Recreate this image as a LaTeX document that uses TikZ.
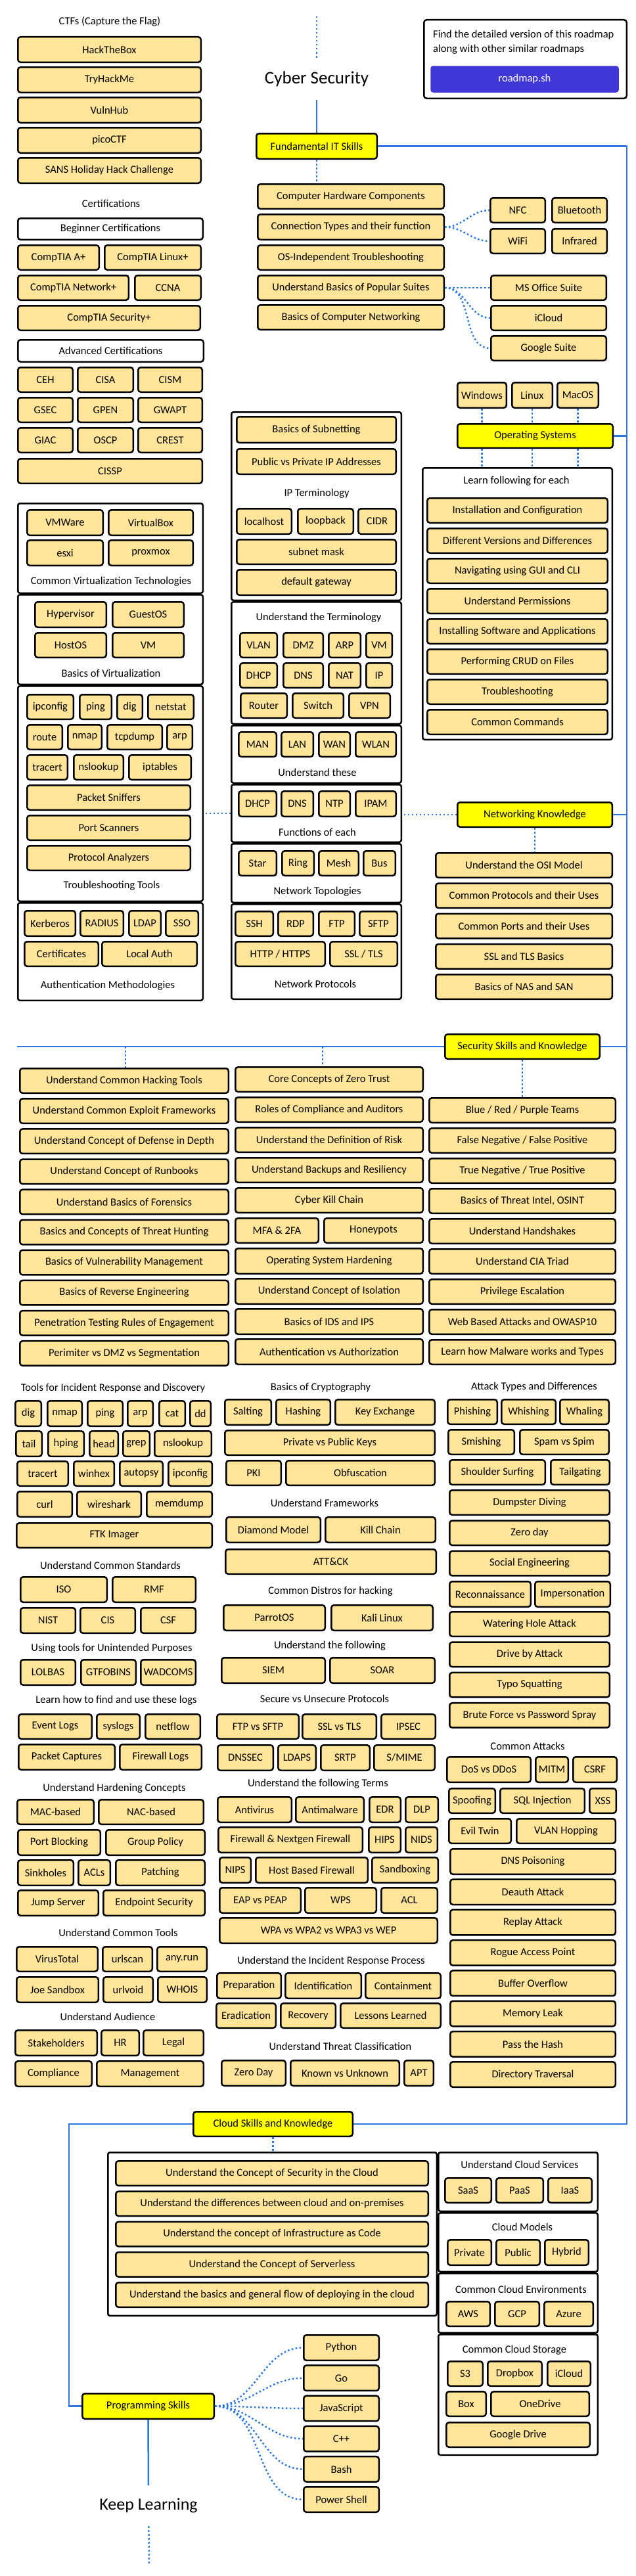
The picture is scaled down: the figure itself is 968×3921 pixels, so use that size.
\documentclass[tikz,border=0pt]{standalone}
\usepackage{fontspec}
\setmainfont{Carlito}
\usepackage{xcolor}
\usetikzlibrary{calc}
\usetikzlibrary{positioning}
\definecolor{topicfill}{HTML}{FFE599}
\definecolor{mainfill}{HTML}{FFFF00}
\definecolor{roadblue}{HTML}{2B78E4}
\definecolor{btnblue}{HTML}{4136D6}
\newcommand{\boxfont}{\fontsize{16.5}{19}\selectfont}
\newcommand{\bigfont}{\fontsize{27}{30}\selectfont}
\tikzset{
heavy/.style={line width=2.5pt},
topic/.style n args={4}{
	draw, heavy, rounded corners=4pt, fill=topicfill,
	inner sep=0pt, font=\boxfont,
	minimum width={#3-(#1)-2.5}, minimum height={#4-(#2)-2.5},
	at={({((#1)+(#3))/2},{((#2)+(#4))/2})}
},
main/.style n args={4}{topic={#1}{#2}{#3}{#4}, fill=mainfill},
plain/.style n args={4}{topic={#1}{#2}{#3}{#4}, fill=white},
panel/.style n args={4}{topic={#1}{#2}{#3}{#4}, fill=white, rounded corners=3pt},
button/.style n args={4}{topic={#1}{#2}{#3}{#4}, draw=none, fill=btnblue, text=white},
caption/.style={font=\boxfont, inner sep=0pt},
headline/.style={font=\bigfont, inner sep=0pt, minimum height=64},
spine/.style={draw=roadblue, heavy},
dotline/.style={draw=roadblue, heavy, dash pattern=on 2.5pt off 3.5pt},
}
\begin{document}
\begin{tikzpicture}[x=1pt, y=-1pt]
\useasboundingbox (0,0) rectangle (968,3921);

%Place the nodes
\coordinate (start) at (482,25);
\node[headline] (title) at (482,120) {Cyber Security};
\node[plain={644}{29}{955}{151}] (info) {};
\node[caption, align=left, anchor=west, font=\fontsize{16.5}{22}\selectfont] (infotext) at (659,64) {Find the detailed version of this roadmap\\along with other similar roadmaps};
\node[button={654}{99}{943}{142}] (site) {roadmap.sh};

% CTFs and certifications
\node[caption] (ctfT) at (167,33) {CTFs (Capture the Flag)};
\foreach \lbl [count=\i] in {HackTheBox, TryHackMe, VulnHub, picoCTF, SANS Holiday Hack Challenge} {
	\pgfmathsetmacro{\ya}{55+46*(\i-1)}
	\node[topic={26}{\ya}{307}{\ya+41}] (ctf\i) {\lbl};
}
\node[caption] (certT) at (169,310) {Certifications};
\node[plain={26}{331}{310}{366}] (begin) {Beginner Certifications};
\node[topic={26}{372}{152}{412}] (aplus) {CompTIA A+};
\node[topic={158}{372}{307}{412}] (linuxp) {CompTIA Linux+};
\node[topic={26}{418}{197}{458}] (netp) {CompTIA Network+};
\node[topic={204}{418}{307}{458}] (ccna) {CCNA};
\node[topic={26}{464}{306}{504}] (secp) {CompTIA Security+};
\node[plain={26}{516}{311}{552}] (adv) {Advanced Certifications};
\foreach \a/\b/\c [count=\i] in {CEH/CISA/CISM, GSEC/GPEN/GWAPT, GIAC/OSCP/CREST} {
	\pgfmathsetmacro{\ya}{558+46*(\i-1)}
	\node[topic={26}{\ya}{112}{\ya+40}] (adv\i1) {\a};
	\node[topic={117}{\ya}{204}{\ya+40}] (adv\i2) {\b};
	\node[topic={209}{\ya}{309}{\ya+40}] (adv\i3) {\c};
}
\node[topic={26}{697}{309}{737}] (cissp) {CISSP};

% virtualization and tools
\node[panel={26}{765}{310}{904}] (virt) {};
\node[topic={40}{775}{158}{816}] (vmware) {VMWare};
\node[topic={164}{775}{295}{816}] (vbox) {VirtualBox};
\node[topic={40}{821}{158}{862}] (esxi) {esxi};
\node[topic={164}{821}{295}{862}] (proxmox) {proxmox};
\node[caption] (virtT) at (169,885) {Common Virtualization Technologies};
\node[panel={26}{904}{310}{1043}] (bvirt) {};
\node[topic={52}{915}{163}{956}] (hyper) {Hypervisor};
\node[topic={170}{915}{281}{956}] (guest) {GuestOS};
\node[topic={52}{962}{163}{1002}] (hostos) {HostOS};
\node[topic={170}{962}{281}{1002}] (vm) {VM};
\node[caption] (bvirtT) at (169,1025) {Basics of Virtualization};
\node[panel={26}{1043}{310}{1373}] (tools) {};
\node[topic={40}{1056}{113}{1096}] (ipconfig) {ipconfig};
\node[topic={120}{1056}{171}{1096}] (ping) {ping};
\node[topic={177}{1056}{218}{1096}] (dig) {dig};
\node[topic={224}{1056}{296}{1096}] (netstat) {netstat};
\node[topic={40}{1102}{96}{1142}] (route) {route};
\node[topic={102}{1102}{156}{1142}] (nmap) {nmap};
\node[topic={162}{1102}{248}{1142}] (tcpdump) {tcpdump};
\node[topic={253}{1102}{294}{1142}] (arp) {arp};
\node[topic={40}{1148}{104}{1188}] (tracert) {tracert};
\node[topic={111}{1148}{189}{1188}] (nslookup) {nslookup};
\node[topic={195}{1148}{292}{1188}] (iptables) {iptables};
\node[topic={40}{1194}{291}{1234}] (sniff) {Packet Sniffers};
\node[topic={40}{1240}{291}{1280}] (scanners) {Port Scanners};
\node[topic={40}{1286}{291}{1326}] (analyzers) {Protocol Analyzers};
\node[caption] (toolsT) at (170,1348) {Troubleshooting Tools};
\node[panel={26}{1373}{310}{1524}] (auth) {};
\node[topic={36}{1385}{116}{1426}] (kerb) {Kerberos};
\node[topic={121}{1385}{189}{1426}] (radius) {RADIUS};
\node[topic={195}{1385}{246}{1426}] (ldap) {LDAP};
\node[topic={251}{1385}{303}{1426}] (sso) {SSO};
\node[topic={36}{1432}{151}{1472}] (certs) {Certificates};
\node[topic={154}{1432}{301}{1472}] (local) {Local Auth};
\node[caption] (authT) at (164,1500) {Authentication Methodologies};

% networking panels
\node[panel={351}{626}{612}{915}] (ng1) {};
\node[topic={359}{633}{604}{675}] (subnet) {Basics of Subnetting};
\node[topic={359}{682}{604}{723}] (pubpriv) {Public vs Private IP Addresses};
\node[caption] (ipT) at (482,751) {IP Terminology};
\node[topic={359}{773}{445}{814}] (localhost) {localhost};
\node[topic={452}{773}{539}{814}] (loopback) {loopback};
\node[topic={544}{773}{604}{814}] (cidr) {CIDR};
\node[topic={359}{820}{604}{860}] (mask) {subnet mask};
\node[topic={359}{866}{604}{907}] (gateway) {default gateway};
\node[panel={351}{915}{612}{1103}] (ng2) {};
\node[caption] (termT) at (485,940) {Understand the Terminology};
\node[topic={364}{962}{423}{1002}] (vlan) {VLAN};
\node[topic={430}{962}{493}{1002}] (dmz) {DMZ};
\node[topic={499}{962}{550}{1002}] (arpt) {ARP};
\node[topic={556}{962}{598}{1002}] (vmt) {VM};
\node[topic={364}{1008}{423}{1048}] (dhcpt) {DHCP};
\node[topic={430}{1008}{493}{1048}] (dnst) {DNS};
\node[topic={499}{1008}{550}{1048}] (nat) {NAT};
\node[topic={556}{1008}{598}{1048}] (ip) {IP};
\node[topic={365}{1054}{438}{1094}] (router) {Router};
\node[topic={444}{1054}{524}{1094}] (switch) {Switch};
\node[topic={530}{1054}{595}{1094}] (vpn) {VPN};
\node[panel={351}{1103}{612}{1193}] (ng3) {};
\foreach \lbl/\xa/\xb [count=\i] in {MAN/362/422, LAN/427/478, WAN/484/534, WLAN/540/604} {
	\node[topic={\xa}{1113}{\xb}{1153}] (area\i) {\lbl};
}
\node[caption] (theseT) at (483,1176) {Understand these};
\node[panel={351}{1193}{612}{1283}] (ng4) {};
\foreach \lbl/\xa/\xb [count=\i] in {DHCP/362/422, DNS/427/478, NTP/484/534, IPAM/540/604} {
	\node[topic={\xa}{1203}{\xb}{1244}] (func\i) {\lbl};
}
\node[caption] (funcT) at (483,1267) {Functions of each};
\node[panel={351}{1283}{612}{1375}] (ng5) {};
\foreach \lbl/\xa/\xb [count=\i] in {Star/362/422, Ring/428/479, Mesh/484/547, Bus/552/603} {
	\node[topic={\xa}{1294}{\xb}{1334}] (topo\i) {\lbl};
}
\node[caption] (topoT) at (483,1357) {Network Topologies};
\node[panel={351}{1375}{612}{1522}] (ng6) {};
\foreach \lbl/\xa/\xb [count=\i] in {SSH/357/417, RDP/422/478, FTP/484/541, SFTP/546/606} {
	\node[topic={\xa}{1386}{\xb}{1426}] (proto\i) {\lbl};
}
\node[topic={357}{1432}{496}{1472}] (http) {HTTP / HTTPS};
\node[topic={501}{1432}{606}{1472}] (ssltls) {SSL / TLS};
\node[caption] (protoT) at (480,1498) {Network Protocols};

% fundamental it skills
\node[main={389}{202}{575}{243}] (fit) {Fundamental IT Skills};
\node[topic={391}{279}{677}{319}] (hw) {Computer Hardware Components};
\node[topic={391}{325}{677}{366}] (conn) {Connection Types and their function};
\node[topic={391}{372}{677}{412}] (ostrouble) {OS-Independent Troubleshooting};
\node[topic={391}{418}{677}{458}] (suites) {Understand Basics of Popular Suites};
\node[topic={391}{463}{677}{503}] (netbasics) {Basics of Computer Networking};
\node[topic={745}{300}{831}{340}] (nfc) {NFC};
\node[topic={839}{300}{925}{340}] (bt) {Bluetooth};
\node[topic={745}{347}{831}{387}] (wifi) {WiFi};
\node[topic={839}{347}{925}{387}] (ir) {Infrared};
\node[topic={746}{418}{924}{458}] (office) {MS Office Suite};
\node[topic={746}{464}{924}{504}] (icloud) {iCloud};
\node[topic={746}{510}{924}{550}] (gsuite) {Google Suite};

% operating systems
\node[topic={695}{581}{772}{622}] (windows) {Windows};
\node[topic={778}{581}{842}{622}] (linux) {Linux};
\node[topic={847}{581}{912}{622}] (macos) {MacOS};
\node[main={695}{644}{934}{683}] (os) {Operating Systems};
\node[panel={642}{711}{933}{1127}] (osp) {};
\node[caption] (learnT) at (786,732) {Learn following for each};
\foreach \lbl [count=\i] in {Installation and Configuration, Different Versions and Differences, Navigating using GUI and CLI, Understand Permissions, Installing Software and Applications, Performing CRUD on Files, Troubleshooting, Common Commands} {
	\pgfmathsetmacro{\ya}{757+46*(\i-1)}
	\node[topic={649}{\ya}{926}{\ya+40}] (learn\i) {\lbl};
}

% networking knowledge
\node[main={695}{1220}{933}{1260}] (net) {Networking Knowledge};
\foreach \lbl [count=\i] in {Understand the OSI Model, Common Protocols and their Uses, Common Ports and their Uses, SSL and TLS Basics, Basics of NAS and SAN} {
	\pgfmathsetmacro{\ya}{1297+46.25*(\i-1)}
	\node[topic={662}{\ya}{933}{\ya+40}] (netk\i) {\lbl};
}

% security skills and knowledge
\coordinate (secL) at (26,1593);
\coordinate (drop1) at (191,1593);
\coordinate (drop2) at (491,1593);
\node[main={676}{1573}{914}{1613}] (sec) {Security Skills and Knowledge};
\foreach \lbl [count=\i] in {Understand Common Hacking Tools, Understand Common Exploit Frameworks, Understand Concept of Defense in Depth, Understand Concept of Runbooks, Understand Basics of Forensics, Basics and Concepts of Threat Hunting, Basics of Vulnerability Management, Basics of Reverse Engineering, Penetration Testing Rules of Engagement, Perimiter vs DMZ vs Segmentation} {
	\pgfmathsetmacro{\ya}{1625+46.1*(\i-1)}
	\node[topic={29}{\ya}{349}{\ya+40}] (sl\i) {\lbl};
}
\foreach \lbl [count=\i] in {Core Concepts of Zero Trust, Roles of Compliance and Auditors, Understand the Definition of Risk, Understand Backups and Resiliency, Cyber Kill Chain} {
	\pgfmathsetmacro{\ya}{1623+46*(\i-1)}
	\node[topic={357}{\ya}{645}{\ya+40}] (sm\i) {\lbl};
}
\node[topic={357}{1853}{486}{1893}] (mfa) {MFA \& 2FA};
\node[topic={492}{1853}{645}{1893}] (honey) {Honeypots};
\foreach \lbl [count=\i from 7] in {Operating System Hardening, Understand Concept of Isolation, Basics of IDS and IPS, Authentication vs Authorization} {
	\pgfmathsetmacro{\ya}{1623+46*(\i-1)}
	\node[topic={357}{\ya}{645}{\ya+41}] (sm\i) {\lbl};
}
\foreach \lbl [count=\i] in {Blue / Red / Purple Teams, False Negative / False Positive, True Negative / True Positive, {Basics of Threat Intel, OSINT}, Understand Handshakes, Understand CIA Triad, Privilege Escalation, Web Based Attacks and OWASP10, Learn how Malware works and Types} {
	\pgfmathsetmacro{\ya}{1670+46*(\i-1)}
	\node[topic={652}{\ya}{938}{\ya+40}] (sr\i) {\lbl};
}

% incident response tools
\node[caption] (irT) at (172,2113) {Tools for Incident Response and Discovery};
\foreach \lbl/\xa/\xb [count=\i] in {dig/22/64, nmap/71/126, ping/132/188, arp/193/234, cat/241/283, dd/288/322} {
	\node[topic={\xa}{2131}{\xb}{2172}] (ira\i) {\lbl};
}
\foreach \lbl/\xa/\xb [count=\i] in {tail/23/65, hping/72/129, head/135/181, grep/186/229, nslookup/234/323} {
	\node[topic={\xa}{2177}{\xb}{2218}] (irb\i) {\lbl};
}
\foreach \lbl/\xa/\xb [count=\i] in {tracert/25/105, winhex/111/175, autopsy/181/249, ipconfig/255/324} {
	\node[topic={\xa}{2223}{\xb}{2263}] (irc\i) {\lbl};
}
\foreach \lbl/\xa/\xb [count=\i] in {curl/25/111, wireshark/116/216, memdump/222/324} {
	\node[topic={\xa}{2269}{\xb}{2310}] (ird\i) {\lbl};
}
\node[topic={24}{2317}{324}{2357}] (ftk) {FTK Imager};
\node[caption] (stdT) at (168,2383) {Understand Common Standards};
\node[topic={30}{2399}{164}{2440}] (iso) {ISO};
\node[topic={170}{2399}{299}{2440}] (rmf) {RMF};
\node[topic={30}{2446}{116}{2487}] (nist) {NIST};
\node[topic={121}{2446}{207}{2487}] (cis) {CIS};
\node[topic={213}{2446}{299}{2487}] (csf) {CSF};
\node[caption] (unintT) at (170,2509) {Using tools for Unintended Purposes};
\node[topic={30}{2525}{116}{2566}] (lolbas) {LOLBAS};
\node[topic={122}{2525}{208}{2566}] (gtfo) {GTFOBINS};
\node[topic={213}{2525}{299}{2566}] (wadcoms) {WADCOMS};
\node[caption] (logsT) at (177,2588) {Learn how to find and use these logs};
\node[topic={27}{2608}{141}{2648}] (evlogs) {Event Logs};
\node[topic={146}{2608}{214}{2648}] (syslogs) {syslogs};
\node[topic={220}{2608}{306}{2648}] (netflow) {netflow};
\node[topic={27}{2654}{176}{2695}] (pcap) {Packet Captures};
\node[topic={181}{2654}{308}{2695}] (fwlogs) {Firewall Logs};
\node[caption] (hardT) at (174,2722) {Understand Hardening Concepts};
\node[topic={25}{2738}{144}{2778}] (mac) {MAC-based};
\node[topic={149}{2738}{311}{2778}] (nac) {NAC-based};
\node[topic={26}{2784}{154}{2825}] (portblock) {Port Blocking};
\node[topic={160}{2784}{313}{2825}] (gpo) {Group Policy};
\node[topic={26}{2830}{113}{2871}] (sinkholes) {Sinkholes};
\node[topic={118}{2830}{169}{2871}] (acls) {ACLs};
\node[topic={175}{2830}{313}{2871}] (patching) {Patching};
\node[topic={26}{2876}{151}{2917}] (jump) {Jump Server};
\node[topic={156}{2876}{313}{2917}] (endpoint) {Endpoint Security};
\node[caption] (ctoolsT) at (180,2942) {Understand Common Tools};
\node[topic={24}{2962}{150}{3002}] (vtotal) {VirusTotal};
\node[topic={155}{2962}{233}{3002}] (urlscan) {urlscan};
\node[topic={238}{2962}{316}{3002}] (anyrun) {any.run};
\node[topic={24}{3008}{151}{3049}] (joe) {Joe Sandbox};
\node[topic={156}{3008}{234}{3049}] (urlvoid) {urlvoid};
\node[topic={239}{3008}{316}{3049}] (whois) {WHOIS};
\node[caption] (audT) at (164,3070) {Understand Audience};
\node[topic={22}{3089}{149}{3130}] (stake) {Stakeholders};
\node[topic={153}{3089}{213}{3130}] (hr) {HR};
\node[topic={217}{3089}{311}{3130}] (legal) {Legal};
\node[topic={22}{3136}{141}{3177}] (compl) {Compliance};
\node[topic={146}{3136}{311}{3177}] (mgmt) {Management};

% cryptography and frameworks
\node[caption] (cryptoT) at (488,2112) {Basics of Cryptography};
\node[topic={341}{2129}{414}{2170}] (salting) {Salting};
\node[topic={419}{2129}{504}{2170}] (hashing) {Hashing};
\node[topic={509}{2129}{663}{2170}] (keyx) {Key Exchange};
\node[topic={341}{2176}{663}{2216}] (keys) {Private vs Public Keys};
\node[topic={343}{2222}{429}{2262}] (pki) {PKI};
\node[topic={434}{2222}{663}{2262}] (obf) {Obfuscation};
\node[caption] (fwT) at (494,2288) {Understand Frameworks};
\node[topic={343}{2308}{489}{2349}] (diamond) {Diamond Model};
\node[topic={494}{2308}{664}{2349}] (kill) {Kill Chain};
\node[topic={342}{2357}{665}{2397}] (attck) {ATT\&CK};
\node[caption] (distroT) at (503,2422) {Common Distros for hacking};
\node[topic={339}{2442}{496}{2483}] (parrot) {ParrotOS};
\node[topic={503}{2442}{660}{2483}] (kali) {Kali Linux};
\node[caption] (followT) at (502,2505) {Understand the following};
\node[topic={336}{2522}{496}{2563}] (siem) {SIEM};
\node[topic={501}{2522}{663}{2563}] (soar) {SOAR};
\node[caption] (sprotoT) at (494,2586) {Secure vs Unsecure Protocols};
\node[topic={329}{2608}{456}{2648}] (ftpsftp) {FTP vs SFTP};
\node[topic={459}{2608}{574}{2648}] (sslvstls) {SSL vs TLS};
\node[topic={579}{2608}{664}{2648}] (ipsec) {IPSEC};
\node[topic={330}{2655}{417}{2696}] (dnssec) {DNSSEC};
\node[topic={422}{2655}{482}{2696}] (ldaps) {LDAPS};
\node[topic={487}{2655}{564}{2696}] (srtp) {SRTP};
\node[topic={568}{2655}{663}{2696}] (smime) {S/MIME};
\node[caption] (termsT) at (484,2715) {Understand the following Terms};
\node[topic={330}{2734}{445}{2775}] (av) {Antivirus};
\node[topic={449}{2734}{555}{2775}] (am) {Antimalware};
\node[topic={561}{2734}{611}{2775}] (edr) {EDR};
\node[topic={616}{2734}{668}{2775}] (dlp) {DLP};
\node[topic={331}{2780}{553}{2821}] (ngfw) {Firewall \& Nextgen Firewall};
\node[topic={560}{2780}{611}{2821}] (hips) {HIPS};
\node[topic={616}{2780}{667}{2821}] (nids) {NIDS};
\node[topic={333}{2826}{383}{2867}] (nips) {NIPS};
\node[topic={388}{2826}{561}{2867}] (hbf) {Host Based Firewall};
\node[topic={565}{2826}{668}{2867}] (sandbox) {Sandboxing};
\node[topic={333}{2872}{459}{2913}] (eap) {EAP vs PEAP};
\node[topic={463}{2872}{574}{2913}] (wps) {WPS};
\node[topic={579}{2872}{667}{2913}] (acl) {ACL};
\node[topic={333}{2918}{667}{2959}] (wpa) {WPA vs WPA2 vs WPA3 vs WEP};
\node[caption] (irpT) at (504,2985) {Understand the Incident Response Process};
\node[topic={329}{3002}{429}{3043}] (prep) {Preparation};
\node[topic={433}{3002}{551}{3043}] (ident) {Identification};
\node[topic={555}{3002}{672}{3043}] (contain) {Containment};
\node[topic={328}{3048}{421}{3088}] (erad) {Eradication};
\node[topic={426}{3048}{512}{3088}] (recov) {Recovery};
\node[topic={517}{3048}{672}{3088}] (lessons) {Lessons Learned};
\node[caption] (threatT) at (518,3115) {Understand Threat Classification};
\node[topic={336}{3135}{436}{3176}] (zeroday) {Zero Day};
\node[topic={441}{3135}{609}{3176}] (known) {Known vs Unknown};
\node[topic={614}{3135}{661}{3176}] (apt) {APT};

% attack types
\node[caption] (atkT) at (813,2111) {Attack Types and Differences};
\node[topic={680}{2129}{758}{2169}] (phish) {Phishing};
\node[topic={762}{2129}{847}{2169}] (whish) {Whishing};
\node[topic={851}{2129}{928}{2169}] (whale) {Whaling};
\node[topic={681}{2175}{784}{2215}] (smish) {Smishing};
\node[topic={790}{2175}{928}{2215}] (spam) {Spam vs Spim};
\node[topic={683}{2221}{831}{2261}] (shoulder) {Shoulder Surfing};
\node[topic={837}{2221}{929}{2261}] (tailg) {Tailgating};
\foreach \lbl [count=\i] in {Dumpster Diving, Zero day, Social Engineering} {
	\pgfmathsetmacro{\ya}{2267+46.3*(\i-1)}
	\node[topic={683}{\ya}{929}{\ya+40}] (at\i) {\lbl};
}
\node[topic={683}{2406}{809}{2447}] (recon) {Reconnaissance};
\node[topic={813}{2406}{930}{2447}] (imper) {Impersonation};
\foreach \lbl [count=\i from 5] in {Watering Hole Attack, Drive by Attack, Typo Squatting, Brute Force vs Password Spray} {
	\pgfmathsetmacro{\ya}{2452+46.3*(\i-5)}
	\node[topic={683}{\ya}{929}{\ya+40}] (at\i) {\lbl};
}
\node[caption] (comT) at (803,2658) {Common Attacks};
\node[topic={679}{2673}{809}{2714}] (dos) {DoS vs DDoS};
\node[topic={814}{2673}{866}{2714}] (mitm) {MITM};
\node[topic={871}{2673}{940}{2714}] (csrf) {CSRF};
\node[topic={682}{2721}{755}{2761}] (spoof) {Spoofing};
\node[topic={760}{2721}{891}{2761}] (sqli) {SQL Injection};
\node[topic={896}{2721}{939}{2761}] (xss) {XSS};
\node[topic={682}{2767}{779}{2807}] (evil) {Evil Twin};
\node[topic={785}{2767}{938}{2807}] (vhop) {VLAN Hopping};
\foreach \lbl [count=\i] in {DNS Poisoning, Deauth Attack, Replay Attack, Rogue Access Point, Buffer Overflow, Memory Leak, Pass the Hash, Directory Traversal} {
	\pgfmathsetmacro{\ya}{2813+46.3*(\i-1)}
	\node[topic={684}{\ya}{938}{\ya+41}] (ca\i) {\lbl};
}

% cloud skills and knowledge
\coordinate (spine) at (954,3233);
\coordinate (bend) at (105,3233);
\node[main={293}{3213}{538}{3253}] (cloud) {Cloud Skills and Knowledge};
\node[panel={163}{3275}{666}{3526}] (cp) {};
\foreach \lbl [count=\i] in {Understand the Concept of Security in the Cloud, Understand the differences between cloud and on-premises, Understand the concept of Infrastructure as Code, Understand the Concept of Serverless, Understand the basics and general flow of deploying in the cloud} {
	\pgfmathsetmacro{\ya}{3288+46.25*(\i-1)}
	\node[topic={175}{\ya}{653}{\ya+40}] (cl\i) {\lbl};
}
\node[panel={666}{3275}{911}{3367}] (csp) {};
\node[caption] (csT) at (791,3295) {Understand Cloud Services};
\foreach \lbl/\xa/\xb [count=\i] in {SaaS/676/749, PaaS/754/828, IaaS/833/902} {
	\node[topic={\xa}{3314}{\xb}{3354}] (svc\i) {\lbl};
}
\node[panel={666}{3367}{911}{3459}] (cmp) {};
\node[caption] (cmT) at (795,3390) {Cloud Models};
\foreach \lbl/\xa/\xb [count=\i] in {Private/680/749, Public/754/823, Hybrid/828/897} {
	\node[topic={\xa}{3408}{\xb}{3449}] (mdl\i) {\lbl};
}
\node[panel={666}{3459}{911}{3552}] (cep) {};
\node[caption] (ceT) at (793,3485) {Common Cloud Environments};
\foreach \lbl/\xa/\xb [count=\i] in {AWS/678/747, GCP/752/822, Azure/827/904} {
	\node[topic={\xa}{3502}{\xb}{3542}] (env\i) {\lbl};
}
\node[panel={666}{3552}{911}{3738}] (stp) {};
\node[caption] (stT) at (783,3577) {Common Cloud Storage};
\node[topic={680}{3593}{736}{3633}] (s3) {S3};
\node[topic={741}{3593}{826}{3633}] (dropbox) {Dropbox};
\node[topic={832}{3593}{900}{3633}] (icloud2) {iCloud};
\node[topic={678}{3639}{741}{3679}] (boxs) {Box};
\node[topic={746}{3639}{898}{3679}] (onedrive) {OneDrive};
\node[topic={678}{3686}{899}{3726}] (gdrive) {Google Drive};

% programming skills
\node[main={124}{3642}{327}{3683}] (prog) {Programming Skills};
\foreach \lbl [count=\i] in {Python, Go, JavaScript, C++, Bash, Power Shell} {
	\pgfmathsetmacro{\ya}{3553+46.2*(\i-1)}
	\node[topic={461}{\ya}{578}{\ya+41}] (lang\i) {\lbl};
}
\node[headline, font=\fontsize{26}{30}\selectfont, minimum height=62] (keep) at (226,3814) {Keep Learning};
\coordinate (end) at (227,3902);

%
\draw[dotline] (start) -- (title);
\draw[spine] (title) -- (fit);
\draw[spine] (fit.east) -| (spine) -- (cloud.east);
\draw[spine] (os.east) -- (os.east -| spine);
\draw[spine] (net.east) -- (net.east -| spine);
\draw[spine] (sec.east) -- (sec.east -| spine);
\draw[spine] (secL) -- (sec.west);
\draw[spine] (cloud.west) -- (bend) |- (prog.west);
\draw[spine] (prog.south) -- (keep.north);
\draw[dotline] (keep) -- (end);

%
\draw[dotline] (fit.south) -- (fit.south |- hw.north);
\draw[dotline] (conn.east) to[out=0, in=180] (nfc.west);
\draw[dotline] (conn.east) to[out=0, in=180] (wifi.west);
\draw[dotline] (suites.east) -- (office.west);
\draw[dotline] (suites.east) to[out=0, in=180] (icloud.west);
\draw[dotline] (suites.east) to[out=0, in=180] (gsuite.west);
\foreach \n in {windows, linux, macos} {
	\draw[dotline] (\n.south) -- (\n.south |- os.north);
	\draw[dotline] (\n.south |- os.south) -- (\n.south |- osp.north);
}

%
\draw[dotline] (net.west) -- (net.west -| ng4.east);
\draw[dotline] (ng4.west) -- (ng4.west -| tools.east);
\draw[dotline] (net.south) -- (net.south |- netk1.north);

%
\draw[dotline] (drop1) -- (drop1 |- sl1.north);
\draw[dotline] (drop2) -- (drop2 |- sm1.north);
\draw[dotline] (sec.south) -- (sec.south |- sr1.north);
\draw[dotline] (cloud.south) -- (cloud.south |- cp.north);
\foreach \l in {1,...,6} {
	\draw[dotline] (prog.east) to[out=0, in=180] (lang\l.west);
}
\end{tikzpicture}
\end{document}
